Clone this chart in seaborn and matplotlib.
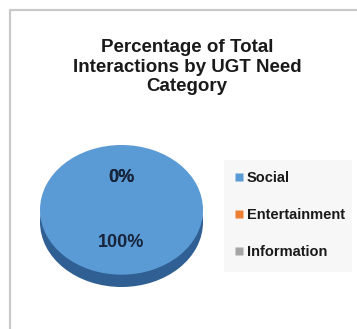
import matplotlib
matplotlib.use("Agg")
import matplotlib.pyplot as plt
from matplotlib.lines import Line2D
from matplotlib.patches import Rectangle
import seaborn as sns

# Share of interactions per UGT need category
categories = ["Social", "Entertainment", "Information"]
shares = [100, 0, 0]
title = "Percentage of Total\nInteractions by UGT Need\nCategory"

sns.set_theme(style="white")
plt.rcParams["font.family"] = ["Liberation Sans", "DejaVu Sans"]

top_colors = ["#5b9bd5", "#ed7d31", "#a5a5a5"]
side_colors = ["#2f5f93", "#a9551f", "#737373"]

W, H = 357, 329
fig = plt.figure(figsize=(W / 100, H / 100), dpi=100)
fig.patch.set_facecolor("white")

# chart-area frame (left and top edges)
fig.add_artist(Line2D([9.5 / W, 9.5 / W], [0, 1 - 9.5 / H], transform=fig.transFigure,
                      color="#c9c9c9", lw=1.6))
fig.add_artist(Line2D([9.5 / W, 1], [1 - 9.5 / H, 1 - 9.5 / H], transform=fig.transFigure,
                      color="#c9c9c9", lw=1.6))

fig.text(187 / W, 1 - 67 / H, title, ha="center", va="center", fontsize=13.5,
         fontweight="bold", color="#1a1a1a", linespacing=1.2)

# pie with a dark rim underneath to give depth
rim = 0.19
left, right, top, bottom = 40, 203, 145, 287
ax = fig.add_axes([left / W, 1 - bottom / H, (right - left) / W, (bottom - top) / H])
ax.pie(shares, colors=side_colors, startangle=90, counterclock=False,
       center=(0, -rim), radius=1, wedgeprops=dict(linewidth=0))
wedges, _, autotexts = ax.pie(
    shares, colors=top_colors, startangle=90, counterclock=False,
    radius=1, autopct=lambda p: f"{p:.0f}%", pctdistance=0.5,
    wedgeprops=dict(linewidth=0),
    textprops=dict(fontsize=13, fontweight="bold", color="#17243a"))
ax.set_aspect("auto")
ax.set_xlim(-1, 1)
ax.set_ylim(-1 - rim, 1)
ax.axis("off")

# legend panel
fig.patches.append(Rectangle((224 / W, 1 - 272 / H), 128 / W, 112 / H,
                             transform=fig.transFigure, facecolor="#f7f7f7",
                             edgecolor="none", zorder=0))
handles = [Line2D([], [], marker="s", linestyle="none", markersize=5.5,
                  markerfacecolor=c, markeredgecolor="none") for c in top_colors]
leg = fig.legend(handles, categories, loc="center left",
                 bbox_to_anchor=(235 / W, 1 - 215 / H), frameon=False,
                 handlelength=0.5, handletextpad=0.3, labelspacing=1.6,
                 prop=dict(size=10.5, weight="bold"), borderpad=0, borderaxespad=0)
for t in leg.get_texts():
    t.set_color("#1a1a1a")

fig.savefig("out.png", dpi=100)
